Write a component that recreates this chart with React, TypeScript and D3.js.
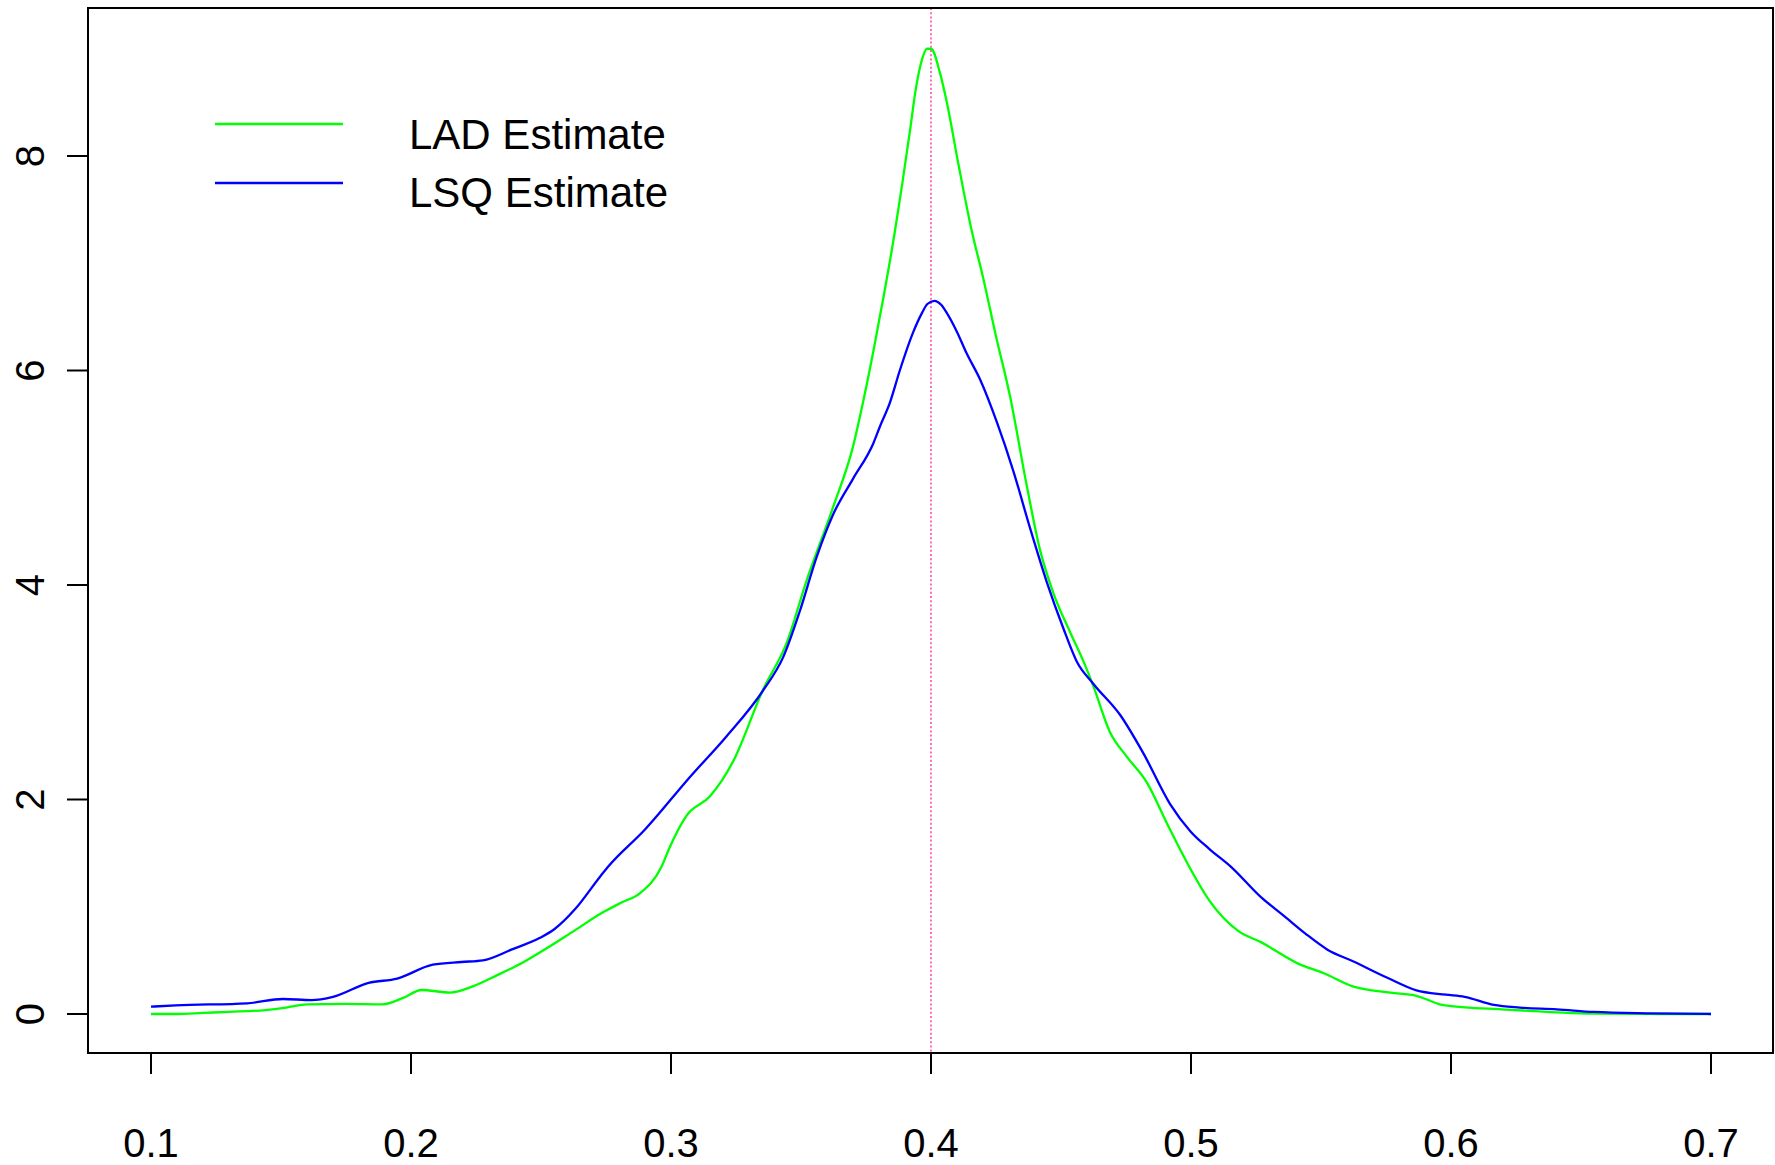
import React from "react";
import * as d3 from "d3";

// density estimates
const ladX = [0.1, 0.11, 0.12, 0.13, 0.144, 0.152, 0.16, 0.175, 0.189, 0.197, 0.204, 0.215, 0.224, 0.233, 0.243, 0.252, 0.263, 0.274, 0.281, 0.288, 0.2963, 0.2996, 0.306, 0.315, 0.324, 0.3355, 0.3445, 0.352, 0.3624, 0.37, 0.374, 0.378, 0.382, 0.386, 0.389, 0.392, 0.394, 0.396, 0.3985, 0.4, 0.4035, 0.406, 0.4105, 0.4156, 0.42, 0.425, 0.4304, 0.4368, 0.4419, 0.447, 0.4535, 0.4586, 0.4624, 0.4688, 0.4753, 0.483, 0.4913, 0.4985, 0.507, 0.5184, 0.5269, 0.5412, 0.5511, 0.5625, 0.5767, 0.5867, 0.5966, 0.6052, 0.6194, 0.6407, 0.655, 0.68, 0.7];
const ladY = [0.0, 0.0, 0.01, 0.02, 0.037, 0.06, 0.09, 0.095, 0.09, 0.15, 0.224, 0.2, 0.26, 0.36, 0.48, 0.61, 0.78, 0.95, 1.04, 1.125, 1.37, 1.56, 1.85, 2.03, 2.36, 3.03, 3.46, 4.03, 4.73, 5.29, 5.72, 6.2, 6.72, 7.28, 7.75, 8.25, 8.6, 8.85, 9.0, 9.0, 8.77, 8.51, 7.93, 7.31, 6.87, 6.32, 5.76, 4.93, 4.33, 3.93, 3.56, 3.29, 3.06, 2.63, 2.4, 2.16, 1.75, 1.41, 1.06, 0.77, 0.67, 0.47, 0.38, 0.255, 0.2, 0.17, 0.084, 0.062, 0.044, 0.015, 0.003, 0.0, 0.0];

const lsqX = [0.1, 0.1095, 0.137, 0.1507, 0.1617, 0.17, 0.1837, 0.1947, 0.2084, 0.2194, 0.2277, 0.2386, 0.2496, 0.2551, 0.2634, 0.2727, 0.2757, 0.29, 0.3073, 0.3214, 0.3355, 0.3432, 0.3496, 0.356, 0.3624, 0.37, 0.3778, 0.3804, 0.3842, 0.388, 0.3932, 0.3964, 0.3986, 0.4013, 0.404, 0.406, 0.41, 0.4137, 0.4188, 0.4253, 0.4317, 0.4381, 0.4445, 0.451, 0.456, 0.4624, 0.4727, 0.4817, 0.4919, 0.4999, 0.507, 0.5155, 0.5269, 0.5355, 0.544, 0.5525, 0.5625, 0.5753, 0.5867, 0.598, 0.6052, 0.6165, 0.6265, 0.6407, 0.655, 0.6763, 0.7];
const lsqY = [0.068, 0.081, 0.1, 0.14, 0.13, 0.16, 0.29, 0.33, 0.46, 0.485, 0.5, 0.6, 0.71, 0.79, 0.985, 1.28, 1.37, 1.72, 2.21, 2.59, 3.02, 3.33, 3.76, 4.26, 4.66, 4.99, 5.32, 5.48, 5.7, 6.0, 6.36, 6.53, 6.62, 6.65, 6.61, 6.54, 6.36, 6.16, 5.92, 5.52, 5.06, 4.53, 4.03, 3.59, 3.29, 3.08, 2.79, 2.43, 1.96, 1.7, 1.54, 1.37, 1.09, 0.92, 0.75, 0.6, 0.49, 0.34, 0.22, 0.18, 0.16, 0.084, 0.06, 0.044, 0.019, 0.006, 0.0];

const xTicks = [0.1, 0.2, 0.3, 0.4, 0.5, 0.6, 0.7];
const yTicks = [0, 2, 4, 6, 8];
const trueValue = 0.4;
const legendLabels = ["LAD Estimate", "LSQ Estimate"];
const legendColors = ["#00ff00", "#0000ff"];

const W = 1775;
const H = 1165;
const box = { left: 88, right: 1773, top: 8, bottom: 1053 };
const FONT = "'Liberation Sans', Arial, Helvetica, sans-serif";

export default function App() {
  const x = d3.scaleLinear().domain([0.1, 0.7]).range([151, 1711]);
  const y = d3.scaleLinear().domain([0, 8]).range([1014, 156]);

  const line = d3.line<number>()
    .x(d => x(d[0]))
    .y(d => y(d[1]))
    .curve(d3.curveMonotoneX);

  const lad = ladX.map((v, i) => [v, ladY[i]]);
  const lsq = lsqX.map((v, i) => [v, lsqY[i]]);

  return (
    <svg width={W} height={H} style={{ position: "absolute", left: 0, top: 0, background: "#fff" }}
      fontFamily={FONT}>
      <rect x={0} y={0} width={W} height={H} fill="#fff" />

      {/* true value reference */}
      <line x1={x(trueValue)} x2={x(trueValue)} y1={box.top} y2={box.bottom}
        stroke="#ff3fa6" strokeWidth={1.5} strokeDasharray="2 2.2" />

      <path d={line(lad as any) || ""} fill="none" stroke={legendColors[0]} strokeWidth={2.3} />
      <path d={line(lsq as any) || ""} fill="none" stroke={legendColors[1]} strokeWidth={2.3} />

      <rect x={box.left} y={box.top} width={box.right - box.left} height={box.bottom - box.top}
        fill="none" stroke="#000" strokeWidth={2} />

      {/* x axis */}
      <line x1={x(xTicks[0])} x2={x(xTicks[xTicks.length - 1])} y1={box.bottom} y2={box.bottom}
        stroke="#000" strokeWidth={2} />
      {xTicks.map(t => (
        <g key={t}>
          <line x1={x(t)} x2={x(t)} y1={box.bottom} y2={box.bottom + 21} stroke="#000" strokeWidth={2} />
          <text x={x(t)} y={1157} textAnchor="middle" fontSize={40}>{t.toFixed(1)}</text>
        </g>
      ))}

      {/* y axis */}
      {yTicks.map(t => (
        <g key={t}>
          <line x1={box.left - 21} x2={box.left} y1={y(t)} y2={y(t)} stroke="#000" strokeWidth={2} />
          <text transform={`translate(44,${y(t)}) rotate(-90)`} textAnchor="middle" fontSize={40}>{t}</text>
        </g>
      ))}

      {/* legend */}
      {legendLabels.map((lab, i) => (
        <g key={lab}>
          <line x1={215} x2={343} y1={124 + i * 59} y2={124 + i * 59} stroke={legendColors[i]} strokeWidth={2.3} />
          <text x={409} y={149 + i * 58} fontSize={42}>{lab}</text>
        </g>
      ))}
    </svg>
  );
}
